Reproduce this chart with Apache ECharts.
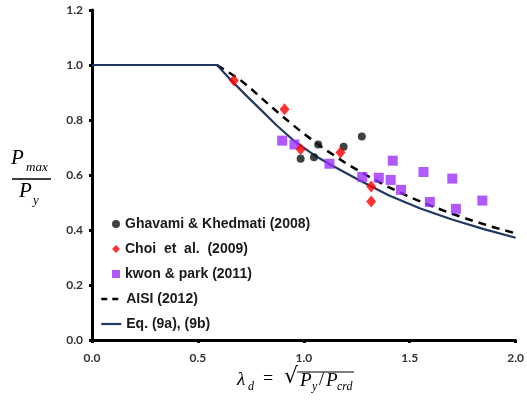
<!DOCTYPE html>
<html>
<head>
<meta charset="utf-8">
<script src="https://cdn.jsdelivr.net/npm/echarts@6/dist/echarts.min.js"></script>
<style>html,body{margin:0;padding:0;background:#fff;}#c{width:527px;height:419px;}</style>
</head>
<body>
<div id="c"></div>
<script>
// ---- data ----
const ghavamiX = [0.985, 1.048, 1.068, 1.188, 1.274];
const ghavamiY = [0.659, 0.665, 0.711, 0.703, 0.740];
const choiX = [0.670, 0.909, 0.985, 1.173, 1.318, 1.318];
const choiY = [0.944, 0.839, 0.694, 0.682, 0.558, 0.504];
const kwonX = [0.898, 0.956, 1.121, 1.276, 1.354, 1.410, 1.420, 1.459, 1.565, 1.595, 1.701, 1.718, 1.843];
const kwonY = [0.725, 0.711, 0.641, 0.593, 0.590, 0.582, 0.652, 0.546, 0.611, 0.502, 0.587, 0.477, 0.507];
const aisiX = [0.59, 0.65, 0.70, 0.75, 0.80, 0.85, 0.90, 0.95, 1.00, 1.10, 1.20, 1.30, 1.40, 1.50, 1.60, 1.70, 1.80, 1.90, 2.00];
const aisiY = [1.00, 0.971, 0.946, 0.914, 0.880, 0.846, 0.813, 0.781, 0.750, 0.693, 0.642, 0.597, 0.556, 0.520, 0.488, 0.459, 0.433, 0.409, 0.388];
const eqX = [0.00, 0.59, 0.65, 0.72, 0.80, 0.87, 0.96, 1.05, 1.12, 1.26, 1.40, 1.55, 1.70, 1.85, 2.00];
const eqY = [1.00, 1.00, 0.950, 0.895, 0.835, 0.782, 0.720, 0.672, 0.640, 0.582, 0.526, 0.478, 0.438, 0.403, 0.372];
const scatterNames = ['Ghavami & Khedmati (2008)', 'Choi  et  al.  (2009)', 'kwon & park (2011)'];
const lineNames = ['AISI (2012)', 'Eq. (9a), (9b)'];
const xTicks = {min: 0, max: 2, interval: 0.5};
const yTicks = {min: 0, max: 1.2, interval: 0.2};

const zip = (xs, ys) => xs.map((x, i) => [x, ys[i]]);

const chart = echarts.init(document.getElementById('c'), null, {renderer: 'canvas'});
const serif = 'Liberation Serif';
const tickFont = {fontFamily: 'Lato', fontWeight: 'bold', fontSize: 12, color: '#333'};
const legendText = {fontFamily: 'Liberation Sans', fontWeight: 'bold', fontSize: 14, color: '#1a1a1a'};

chart.setOption({
  animation: false,
  backgroundColor: '#fff',
  grid: {left: 92, right: 9, top: 10, bottom: 79, containLabel: false},
  xAxis: {
    type: 'value', min: xTicks.min, max: xTicks.max, interval: xTicks.interval,
    axisLine: {show: true, onZero: false, lineStyle: {color: '#000', width: 3}},
    axisTick: {show: true, length: 3, lineStyle: {color: '#000', width: 3}},
    splitLine: {show: false},
    axisLabel: Object.assign({margin: 12, formatter: v => v.toFixed(1)}, tickFont)
  },
  yAxis: {
    type: 'value', min: yTicks.min, max: yTicks.max, interval: yTicks.interval,
    axisLine: {show: true, onZero: false, lineStyle: {color: '#000', width: 3}},
    axisTick: {show: true, length: 3, lineStyle: {color: '#000', width: 3}},
    splitLine: {show: false},
    axisLabel: Object.assign({margin: 9, formatter: v => v.toFixed(1)}, tickFont)
  },
  legend: [
    {
      orient: 'vertical', left: 107, top: 212,
      itemWidth: 8, itemHeight: 8, itemGap: 11,
      data: scatterNames,
      textStyle: legendText
    },
    {
      orient: 'vertical', left: 95, top: 287,
      itemWidth: 20, itemHeight: 8, itemGap: 11,
      itemStyle: {opacity: 0},
      data: [
        {name: lineNames[0], lineStyle: {type: [6, 5], width: 2.5, color: '#000'}},
        {name: lineNames[1], lineStyle: {width: 2.2, color: '#1f3864'}}
      ],
      textStyle: legendText
    }
  ],
  series: [
    {name: scatterNames[0], type: 'scatter', data: zip(ghavamiX, ghavamiY), symbol: 'circle', symbolSize: 8,
     itemStyle: {color: '#0b1414'}, z: 5},
    {name: scatterNames[1], type: 'scatter', data: zip(choiX, choiY), symbol: 'diamond', symbolSize: [10, 12],
     itemStyle: {color: '#ff0000'}, z: 5},
    {name: scatterNames[2], type: 'scatter', data: zip(kwonX, kwonY), symbol: 'rect', symbolSize: 10,
     itemStyle: {color: '#9b30ff'}, z: 4},
    {name: lineNames[0], type: 'line', data: zip(aisiX, aisiY), showSymbol: false, symbol: 'none', smooth: false,
     lineStyle: {color: '#000', width: 2.5, type: [8, 6]}, itemStyle: {color: '#000'}, z: 3},
    {name: lineNames[1], type: 'line', data: zip(eqX, eqY), showSymbol: false, symbol: 'none', smooth: false,
     lineStyle: {color: '#1f3864', width: 2.2}, itemStyle: {color: '#1f3864'}, z: 3}
  ],
  graphic: [
    // y-axis label: P_max / P_y
    {type: 'text', left: 11, top: 148, style: {text: 'P', font: 'italic 21px ' + serif, fill: '#000'}},
    {type: 'text', left: 26, top: 161, style: {text: 'max', font: 'italic 13px ' + serif, fill: '#000'}},
    {type: 'line', shape: {x1: 12, y1: 179, x2: 51, y2: 179}, style: {stroke: '#000', lineWidth: 1.3}},
    {type: 'text', left: 19, top: 181, style: {text: 'P', font: 'italic 21px ' + serif, fill: '#000'}},
    {type: 'text', left: 33, top: 194, style: {text: 'y', font: 'italic 13px ' + serif, fill: '#000'}},
    // x-axis label: lambda_d = sqrt(P_y / P_crd)
    {type: 'text', left: 237, top: 370, style: {text: 'λ', font: 'italic 19px ' + serif, fill: '#000'}},
    {type: 'text', left: 248, top: 381, style: {text: 'd', font: 'italic 12px ' + serif, fill: '#000'}},
    {type: 'text', left: 263, top: 370, style: {text: '=', font: '18px ' + serif, fill: '#000'}},
    {type: 'text', left: 284, top: 366, style: {text: '√', font: '22px DejaVu Sans', fill: '#000'}},
    {type: 'line', shape: {x1: 297, y1: 372, x2: 354, y2: 372}, style: {stroke: '#000', lineWidth: 1.1}},
    {type: 'text', left: 300, top: 371, style: {text: 'P', font: 'italic 19px ' + serif, fill: '#000'}},
    {type: 'text', left: 312, top: 381, style: {text: 'y', font: 'italic 12px ' + serif, fill: '#000'}},
    {type: 'text', left: 319, top: 371, style: {text: '/', font: '19px ' + serif, fill: '#000'}},
    {type: 'text', left: 326, top: 371, style: {text: 'P', font: 'italic 19px ' + serif, fill: '#000'}},
    {type: 'text', left: 337, top: 381, style: {text: 'crd', font: 'italic 12px ' + serif, fill: '#000'}}
  ]
});
</script>
</body>
</html>
